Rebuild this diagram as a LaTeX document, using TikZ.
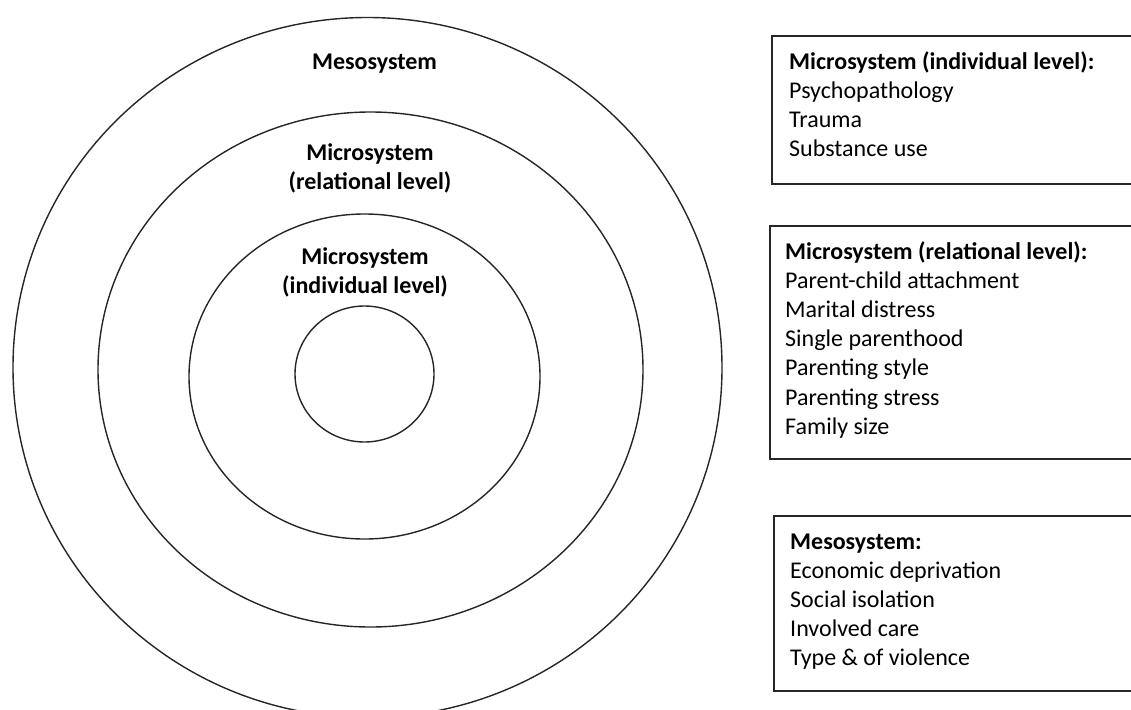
\documentclass[tikz,border=0pt]{standalone}
\usepackage{fontspec}
\setmainfont{Carlito}
\begin{document}
\begin{tikzpicture}[x=1pt,y=-1pt,
  ring/.style={draw=black!85, line width=1.4pt},
  boxframe/.style={draw=black!85, line width=1.3pt},
  lbl/.style={font=\fontsize{24}{29}\selectfont\bfseries, anchor=base, inner sep=0pt},
  itemhead/.style={font=\fontsize{24}{29}\selectfont\bfseries, anchor=base west, inner sep=0pt},
  itemtxt/.style={font=\fontsize{24}{29}\selectfont, anchor=base west, inner sep=0pt}]
\useasboundingbox (0,0) rectangle (1131,709);
\clip (0,0) rectangle (1131,709);
% rings
\draw[ring] (367.5,367.5) ellipse [x radius=354.5pt, y radius=350pt];
\draw[ring] (370.5,369.5) ellipse [x radius=272.5pt, y radius=257.5pt];
\draw[ring] (364.5,376.5) ellipse [x radius=175.5pt, y radius=162.5pt];
\draw[ring] (364.5,374) ellipse [x radius=69.5pt, y radius=68pt];
% ring labels
\node[lbl] (meso) at (374.5,69) {Mesosystem};
\node[lbl] (rel1) at (370,160) {Microsystem};
\node[lbl] (rel2) at (370,189) {(relational level)};
\node[lbl] (ind1) at (365,264) {Microsystem};
\node[lbl] (ind2) at (365,293) {(individual level)};
% boxes
\draw[boxframe] (772,36) rectangle (1150,184);
\draw[boxframe] (770,226) rectangle (1150,459);
\draw[boxframe] (774,516) rectangle (1150,691);
% box 1
\node[itemhead] (b1h) at (789,70) {Microsystem (individual level):};
\foreach \t [count=\i] in {Psychopathology, Trauma, Substance use}
  \node[itemtxt] (b1i\i) at (789,{69+29*\i}) {\t};
% box 2
\node[itemhead] (b2h) at (785,259) {Microsystem (relational level):};
\foreach \t [count=\i] in {Parent-child attachment, Marital distress, Single parenthood, Parenting style, Parenting stress, Family size}
  \node[itemtxt] (b2i\i) at (785,{259+29.2*\i}) {\t};
% box 3
\node[itemhead] (b3h) at (790,549) {Mesosystem:};
\foreach \t [count=\i] in {Economic deprivation, Social isolation, Involved care, Type \& of violence}
  \node[itemtxt] (b3i\i) at (790,{549+29*\i}) {\t};
\end{tikzpicture}
\end{document}
